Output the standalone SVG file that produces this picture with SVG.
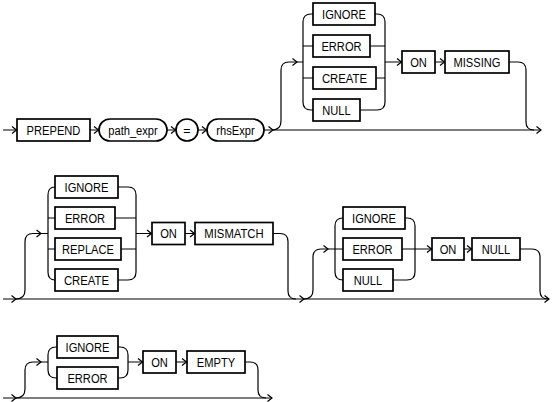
<svg xmlns="http://www.w3.org/2000/svg" xmlns:xlink="http://www.w3.org/1999/xlink" width="555" height="402" viewBox="0 0 555 402">
<style>
.box{fill:#fff;stroke:#000;stroke-width:1.7}
.ln{fill:none;stroke:#000;stroke-width:1.2}
text{font-family:"Liberation Sans",Arial,sans-serif;font-size:12.5px;text-anchor:middle;fill:#000}
</style>
<defs>
<path id="ah" d="M-4.5,-3.5 L0,0 L-4.5,3.5" fill="none" stroke="#000" stroke-width="1.2"/>
</defs>
<rect width="555" height="402" fill="#fff"/>
<g id="connectors">
<!-- row 1 -->
<path class="ln" d="M3,130 H17 M90,130 H99 M167,130 H176 M198,130 H207 M264,130 H541"/>
<path class="ln" d="M272,130 Q281,130 281,121 V70 Q281,62 289,62 H303"/>
<path class="ln" d="M303,62 V22 Q303,14 311,14 H313 M303,62 V102 Q303,110 311,110 H313 M303,46 H313 M303,78 H313"/>
<path class="ln" d="M375,14 H377 Q385,14 385,22 V102 Q385,110 377,110 H360 M370,46 H385 M376,78 H385 M385,62 H402 M435,62 H445"/>
<path class="ln" d="M509,62 H518 Q526,62 526,70 V122 Q526,130 534,130"/>
<!-- row 2 -->
<path class="ln" d="M3,299 H549"/>
<path class="ln" d="M16,299 Q25,299 25,290 V241.5 Q25,233.5 33,233.5 H48"/>
<path class="ln" d="M48,233.5 V195 Q48,187 55,187 M48,233.5 V272 Q48,280 55,280 M48,218 H55 M48,249 H55"/>
<path class="ln" d="M118,187 H128 Q136,187 136,195 V272 Q136,280 128,280 H118 M115,218 H136 M121,249 H136 M136,233.5 H152 M185,233.5 H195"/>
<path class="ln" d="M273,233.5 H280 Q288,233.5 288,241.5 V291 Q288,299 296,299"/>
<path class="ln" d="M304,299 Q313,299 313,290 V257 Q313,249 321,249 H343"/>
<path class="ln" d="M335,249 V226 Q335,218 343,218 M335,249 V272 Q335,280 343,280"/>
<path class="ln" d="M405,218 H407 Q415,218 415,226 V272 Q415,280 407,280 H393 M402,249 H432 M464,249 H472"/>
<path class="ln" d="M520,249 H532 Q540,249 540,257 V291 Q540,299 548,299"/>
<!-- row 3 -->
<path class="ln" d="M3,398 H272"/>
<path class="ln" d="M16,398 Q25,398 25,389 V370 Q25,362 33,362 H48"/>
<path class="ln" d="M48,362 V355 Q48,347 56,347 H57 M48,362 V370 Q48,378 56,378 H57"/>
<path class="ln" d="M118,347 H120 Q128,347 128,355 V370 Q128,378 120,378 H118 M128,362 H143 M176,362 H187"/>
<path class="ln" d="M245,362 H250 Q258,362 258,370 V390 Q258,398 266,398"/>
<!-- arrowheads -->
<use xlink:href="#ah" x="16.5" y="130"/>
<use xlink:href="#ah" x="98.5" y="130"/>
<use xlink:href="#ah" x="175.5" y="130"/>
<use xlink:href="#ah" x="206.5" y="130"/>
<use xlink:href="#ah" x="273" y="130"/>
<use xlink:href="#ah" x="297" y="62"/>
<use xlink:href="#ah" x="401.5" y="62"/>
<use xlink:href="#ah" x="444.5" y="62"/>
<use xlink:href="#ah" x="541" y="130"/>
<use xlink:href="#ah" x="16" y="299"/>
<use xlink:href="#ah" x="41" y="233.5"/>
<use xlink:href="#ah" x="151.5" y="233.5"/>
<use xlink:href="#ah" x="194.5" y="233.5"/>
<use xlink:href="#ah" x="304" y="299"/>
<use xlink:href="#ah" x="328" y="249"/>
<use xlink:href="#ah" x="431.5" y="249"/>
<use xlink:href="#ah" x="471.5" y="249"/>
<use xlink:href="#ah" x="549" y="299"/>
<use xlink:href="#ah" x="16" y="398"/>
<use xlink:href="#ah" x="41" y="362"/>
<use xlink:href="#ah" x="142.5" y="362"/>
<use xlink:href="#ah" x="186.5" y="362"/>
<use xlink:href="#ah" x="272" y="398"/>
</g>
<!-- row 1 nodes -->
<g id="prepend"><rect class="box" x="17" y="119" width="73" height="22"/><text x="53.5" y="134.5" textLength="53.8" lengthAdjust="spacingAndGlyphs">PREPEND</text></g>
<g id="path_expr"><rect class="box" x="99" y="119" width="68" height="22" rx="11"/><text x="133" y="134.5" textLength="49.5" lengthAdjust="spacingAndGlyphs">path_expr</text></g>
<g id="eq"><rect class="box" x="176" y="119" width="22" height="22" rx="11"/><text x="187" y="134.5">=</text></g>
<g id="rhsExpr"><rect class="box" x="207" y="119" width="57" height="22" rx="11"/><text x="235.5" y="134.5" textLength="38.3" lengthAdjust="spacingAndGlyphs">rhsExpr</text></g>
<g id="r1_ignore"><rect class="box" x="313" y="3" width="62" height="22"/><text x="344" y="18.5" textLength="43.9" lengthAdjust="spacingAndGlyphs">IGNORE</text></g>
<g id="r1_error"><rect class="box" x="313" y="35" width="57" height="22"/><text x="341.5" y="50.5" textLength="40.2" lengthAdjust="spacingAndGlyphs">ERROR</text></g>
<g id="r1_create"><rect class="box" x="313" y="67" width="63" height="22"/><text x="344.5" y="82.5" textLength="45.1" lengthAdjust="spacingAndGlyphs">CREATE</text></g>
<g id="r1_null"><rect class="box" x="313" y="99" width="47" height="22"/><text x="336.5" y="114.5" textLength="28.4" lengthAdjust="spacingAndGlyphs">NULL</text></g>
<g id="r1_on"><rect class="box" x="402" y="51" width="33" height="22"/><text x="418.5" y="66.5" textLength="16.7" lengthAdjust="spacingAndGlyphs">ON</text></g>
<g id="r1_missing"><rect class="box" x="445" y="51" width="64" height="22"/><text x="477" y="66.5" textLength="47" lengthAdjust="spacingAndGlyphs">MISSING</text></g>
<!-- row 2 nodes -->
<g id="r2_ignore"><rect class="box" x="55" y="176" width="63" height="22"/><text x="86.5" y="191.5" textLength="43.9" lengthAdjust="spacingAndGlyphs">IGNORE</text></g>
<g id="r2_error"><rect class="box" x="55" y="207" width="60" height="22"/><text x="85" y="222.5" textLength="40.2" lengthAdjust="spacingAndGlyphs">ERROR</text></g>
<g id="r2_replace"><rect class="box" x="55" y="238" width="66" height="22"/><text x="88" y="253.5" textLength="51.9" lengthAdjust="spacingAndGlyphs">REPLACE</text></g>
<g id="r2_create"><rect class="box" x="55" y="269" width="63" height="22"/><text x="86.5" y="284.5" textLength="45.1" lengthAdjust="spacingAndGlyphs">CREATE</text></g>
<g id="r2_on"><rect class="box" x="152" y="222.5" width="33" height="22"/><text x="168.5" y="238" textLength="16.7" lengthAdjust="spacingAndGlyphs">ON</text></g>
<g id="r2_mismatch"><rect class="box" x="195" y="222.5" width="78" height="22"/><text x="234" y="238" textLength="59.3" lengthAdjust="spacingAndGlyphs">MISMATCH</text></g>
<g id="r2b_ignore"><rect class="box" x="343" y="207" width="62" height="22"/><text x="374" y="222.5" textLength="43.9" lengthAdjust="spacingAndGlyphs">IGNORE</text></g>
<g id="r2b_error"><rect class="box" x="343" y="238" width="59" height="22"/><text x="372.5" y="253.5" textLength="40.2" lengthAdjust="spacingAndGlyphs">ERROR</text></g>
<g id="r2b_null"><rect class="box" x="343" y="269" width="50" height="22"/><text x="368" y="284.5" textLength="28.4" lengthAdjust="spacingAndGlyphs">NULL</text></g>
<g id="r2b_on"><rect class="box" x="432" y="238" width="32" height="22"/><text x="448" y="253.5" textLength="16.7" lengthAdjust="spacingAndGlyphs">ON</text></g>
<g id="r2b_null2"><rect class="box" x="472" y="238" width="48" height="22"/><text x="496" y="253.5" textLength="28.4" lengthAdjust="spacingAndGlyphs">NULL</text></g>
<!-- row 3 nodes -->
<g id="r3_ignore"><rect class="box" x="57" y="336" width="61" height="22"/><text x="87.5" y="351.5" textLength="43.9" lengthAdjust="spacingAndGlyphs">IGNORE</text></g>
<g id="r3_error"><rect class="box" x="57" y="367" width="61" height="22"/><text x="87.5" y="382.5" textLength="40.2" lengthAdjust="spacingAndGlyphs">ERROR</text></g>
<g id="r3_on"><rect class="box" x="143" y="351" width="33" height="22"/><text x="159.5" y="366.5" textLength="16.7" lengthAdjust="spacingAndGlyphs">ON</text></g>
<g id="r3_empty"><rect class="box" x="187" y="351" width="58" height="22"/><text x="216" y="366.5" textLength="38.3" lengthAdjust="spacingAndGlyphs">EMPTY</text></g>
</svg>
